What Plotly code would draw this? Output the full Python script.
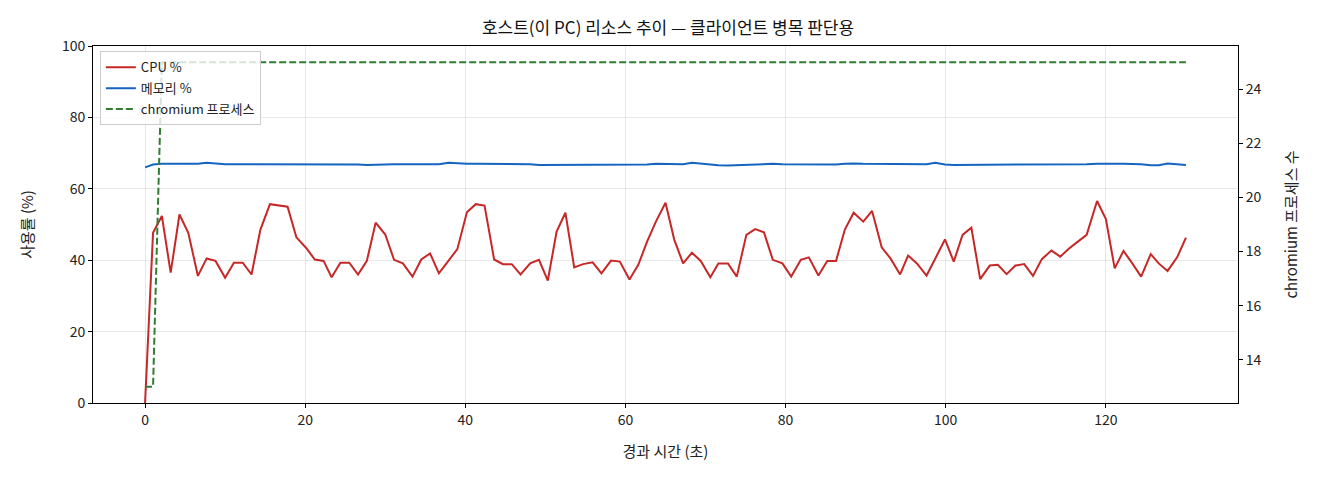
import plotly.graph_objects as go

# elapsed seconds of each sample
elapsed = [0, 1.0, 2.1, 3.2, 4.3, 5.4, 6.6, 7.7, 8.8, 10.0,
           11.1, 12.2, 13.3, 14.4, 15.6, 16.7, 17.8, 18.9, 20.1, 21.2,
           22.3, 23.3, 24.4, 25.5, 26.6, 27.7, 28.8, 30.0, 31.1, 32.2,
           33.4, 34.5, 35.6, 36.7, 37.9, 39.0, 40.2, 41.3, 42.4, 43.6,
           44.7, 45.8, 46.9, 48.1, 49.2, 50.3, 51.4, 52.5, 53.6, 54.7,
           55.9, 57.0, 58.2, 59.3, 60.5, 61.6, 62.7, 63.8, 65.0, 66.1,
           67.2, 68.3, 69.4, 70.6, 71.6, 72.8, 73.9, 75.1, 76.2, 77.3,
           78.4, 79.6, 80.7, 81.9, 82.9, 84.1, 85.2, 86.3, 87.4, 88.5,
           89.7, 90.8, 92.0, 93.1, 94.3, 95.3, 96.4, 97.6, 98.7, 99.9,
           101.0, 102.1, 103.2, 104.3, 105.5, 106.5, 107.6, 108.7, 109.8, 110.9,
           112.0, 113.2, 114.3, 115.4, 116.5, 117.6, 118.9, 120.0, 121.1, 122.2,
           123.3, 124.4, 125.6, 126.6, 127.7, 128.9, 130.0]

cpu_pct = [0, 47.7, 52.4, 36.5, 52.8, 47.7, 35.6, 40.5, 39.8, 35.1,
           39.3, 39.3, 36.0, 48.5, 55.7, 55.4, 55.0, 46.4, 43.5, 40.2,
           39.8, 35.2, 39.3, 39.3, 36.0, 39.8, 50.5, 47.2, 40.1, 39.1,
           35.4, 40.2, 41.9, 36.3, 39.8, 43.1, 53.4, 55.7, 55.3, 40.2,
           38.9, 38.9, 36.0, 39.1, 40.1, 34.3, 48.0, 53.3, 38.0, 38.9,
           39.4, 36.3, 39.9, 39.6, 34.6, 38.7, 45.2, 50.8, 56.1, 45.7,
           39.1, 42.1, 39.8, 35.2, 39.1, 39.1, 35.4, 47.1, 48.7, 47.8,
           40.1, 39.1, 35.4, 40.1, 40.8, 35.7, 39.8, 39.8, 48.6, 53.3,
           50.8, 53.8, 43.6, 40.5, 36.0, 41.3, 39.1, 35.7, 40.5, 45.8,
           39.6, 47.1, 49.1, 34.7, 38.5, 38.7, 36.1, 38.5, 38.9, 35.6,
           40.3, 42.7, 41.0, 43.3, 45.2, 47.1, 56.6, 51.5, 37.7, 42.6,
           39.1, 35.4, 41.7, 39.1, 37.0, 40.8, 46.3]

mem_pct = [66.0, 66.8, 67.0, 67.0, 67.0, 67.0, 67.0, 67.3, 67.1, 66.9,
           66.9, 66.9, 66.9, 67.0, 67.0, 67.0, 67.0, 67.0, 66.9, 66.9,
           66.9, 66.9, 66.8, 66.8, 66.8, 66.7, 66.8, 66.9, 66.9, 66.9,
           66.9, 66.9, 66.9, 66.9, 67.3, 67.1, 67.0, 67.0, 67.0, 66.9,
           67.0, 67.0, 66.9, 66.9, 66.7, 66.7, 66.6, 66.7, 66.7, 66.7,
           66.7, 66.7, 66.7, 66.6, 66.6, 66.7, 66.8, 67.0, 66.9, 66.8,
           66.9, 67.3, 67.0, 66.7, 66.6, 66.5, 66.6, 66.6, 66.8, 67.0,
           67.0, 66.9, 66.9, 66.8, 66.7, 66.7, 66.7, 66.8, 67.0, 67.1,
           67.0, 67.0, 66.9, 66.9, 66.9, 66.8, 66.8, 66.9, 67.3, 66.8,
           66.7, 66.7, 66.7, 66.7, 66.7, 66.7, 66.7, 66.7, 66.7, 66.7,
           66.7, 66.7, 66.7, 66.8, 66.8, 66.9, 67.0, 67.1, 67.0, 67.0,
           67.0, 66.9, 66.6, 66.6, 67.1, 66.9, 66.7]

chromium_count = [13, 13] + [25] * 115

font_family = "Noto Sans CJK KR, Noto Sans, sans-serif"

fig = go.Figure()

fig.add_trace(go.Scatter(x=elapsed, y=cpu_pct, mode='lines', name='CPU %', legendgroup='a',
                         line=dict(color='#c62828', width=2)))
fig.add_trace(go.Scatter(x=elapsed, y=mem_pct, mode='lines', name='메모리 %', legendgroup='b',
                         line=dict(color='#1565c0', width=2)))
fig.add_trace(go.Scatter(x=elapsed, y=chromium_count, mode='lines', name='chromium 프로세스',
                         legendgroup='c', yaxis='y2',
                         line=dict(color='#2e7d32', width=2, dash='7px,3px')))

axis_common = dict(showline=True, linecolor='black', linewidth=1,
                   ticks='outside', ticklen=4, tickcolor='black',
                   tickfont=dict(size=14, color='#222'), zeroline=False)

fig.update_layout(
    width=1320, height=480,
    paper_bgcolor='white', plot_bgcolor='white',
    font=dict(family=font_family, color='#222'),
    margin=dict(l=85, r=90, t=38, b=85),
    title=dict(text='호스트(이 PC) 리소스 추이 — 클라이언트 병목 판단용',
               x=0.5, xanchor='center', y=0.958, yanchor='middle',
               font=dict(size=17, color='#111')),
    xaxis=dict(range=[-6.5, 136.5], tickvals=[0, 20, 40, 60, 80, 100, 120],
               showgrid=True, gridcolor='rgba(0,0,0,0.09)', mirror=True,
               title=dict(text='경과 시간 (초)', font=dict(size=15), standoff=18),
               **axis_common),
    yaxis=dict(range=[0, 100], tickvals=[0, 20, 40, 60, 80, 100],
               showgrid=True, gridcolor='rgba(0,0,0,0.09)',
               title=dict(text='사용률 (%)', font=dict(size=15), standoff=24),
               **axis_common),
    yaxis2=dict(range=[12.4, 25.6], tickvals=[14, 16, 18, 20, 22, 24],
                overlaying='y', side='right', showgrid=False,
                title=dict(text='chromium 프로세스 수', font=dict(size=15), standoff=25),
                **axis_common),
    legend=dict(x=0.006, y=0.985, xanchor='left', yanchor='top',
                bgcolor='rgba(255,255,255,0.8)', bordercolor='#cccccc', borderwidth=1,
                font=dict(size=13), tracegroupgap=1, itemwidth=30),
    showlegend=True,
)

fig.write_html("out.html")
